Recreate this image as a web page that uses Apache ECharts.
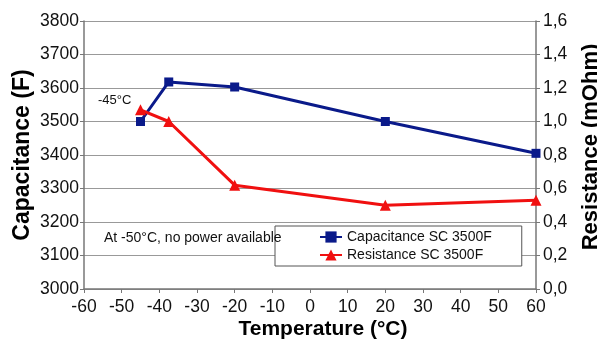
<!DOCTYPE html>
<html><head><meta charset="utf-8">
<script src="https://cdn.jsdelivr.net/npm/echarts@6/dist/echarts.min.js"></script>
<style>html,body{margin:0;padding:0;background:#fff}#c{width:597px;height:339px}</style>
</head><body><div id="c"></div>
<script>
const capTemps = [-45, -37.5, -20, 20, 60];
const capValues = [3500, 3618, 3603, 3500, 3405];
const resTemps = [-45, -37.5, -20, 20, 60];
const resValues = [1.07, 1.0, 0.62, 0.5, 0.53];
const capName = 'Capacitance SC 3500F';
const resName = 'Resistance SC 3500F';
const note1 = '-45°C';
const note2 = 'At -50°C, no power available';

const chart = echarts.init(document.getElementById('c'));
const font = 'Liberation Sans, Arial, sans-serif';
chart.setOption({
  animation: false,
  grid: {left: 84, right: 61, top: 21, bottom: 50, containLabel: false, outerBoundsMode: 'none'},
  xAxis: {
    type: 'value', min: -60, max: 60, interval: 10,
    name: 'Temperature (°C)', nameLocation: 'middle', nameGap: 30, nameMoveOverlap: false,
    nameTextStyle: {fontFamily: font, fontSize: 21, fontWeight: 'bold', color: '#000', padding: [0, 0, 0, 26]},
    axisLine: {onZero: false, lineStyle: {color: '#777', width: 1.5}},
    axisTick: {show: true, length: 4, lineStyle: {color: '#777'}},
    axisLabel: {fontFamily: font, fontSize: 17.5, color: '#111', margin: 9},
    splitLine: {show: false}
  },
  yAxis: [{
    type: 'value', min: 3000, max: 3800, interval: 100,
    name: 'Capacitance (F)', nameLocation: 'middle', nameGap: 50, nameMoveOverlap: false,
    nameTextStyle: {fontFamily: font, fontSize: 23, fontWeight: 'bold', color: '#000'},
    axisLine: {show: true, onZero: false, lineStyle: {color: '#777', width: 1.5}},
    axisTick: {show: true, length: 4, lineStyle: {color: '#777'}},
    axisLabel: {fontFamily: font, fontSize: 17.5, color: '#111', margin: 5, formatter: v => String(v)},
    splitLine: {lineStyle: {color: '#999', width: 1.2}}
  }, {
    type: 'value', min: 0, max: 1.6, interval: 0.2, position: 'right',
    name: 'Resistance (mOhm)', nameLocation: 'middle', nameGap: 55, nameRotate: 90, nameMoveOverlap: false,
    nameTextStyle: {fontFamily: font, fontSize: 22, fontWeight: 'bold', color: '#000', verticalAlign: 'middle', padding: [0, 0, 0, 16]},
    axisLine: {show: true, onZero: false, lineStyle: {color: '#777', width: 1.5}},
    axisTick: {show: true, length: 4, lineStyle: {color: '#777'}},
    axisLabel: {fontFamily: font, fontSize: 17.5, color: '#111', margin: 7,
      formatter: v => v.toFixed(1).replace('.', ',')},
    splitLine: {show: false}
  }],
  legend: {
    orient: 'vertical', left: 275, top: 226, width: 236,
    backgroundColor: '#fff', borderColor: '#555', borderWidth: 1,
    padding: [4, 30, 4, 44], itemGap: 4, itemWidth: 22, itemHeight: 14,
    textStyle: {fontFamily: font, fontSize: 14, color: '#111'},
    data: [capName, resName]
  },
  graphic: [
    {type: 'text', left: 96, top: 92, z: 10,
     style: {text: note1, font: '13px Liberation Sans, Arial', fill: '#111', backgroundColor: '#fff', padding: [2, 2]}},
    {type: 'text', left: 104, top: 231, z: 10,
     style: {text: note2, font: '14px Liberation Sans, Arial', fill: '#111'}}
  ],
  series: [{
    name: capName, type: 'line', yAxisIndex: 0,
    data: capTemps.map((t, i) => [t, capValues[i]]),
    symbol: 'rect', symbolSize: 9,
    lineStyle: {color: '#0a1a8a', width: 3}, itemStyle: {color: '#0a1a8a'}
  }, {
    name: resName, type: 'line', yAxisIndex: 1,
    data: resTemps.map((t, i) => [t, resValues[i]]),
    symbol: 'triangle', symbolSize: 11,
    lineStyle: {color: '#f01010', width: 3}, itemStyle: {color: '#f01010'}
  }]
});
</script></body></html>
